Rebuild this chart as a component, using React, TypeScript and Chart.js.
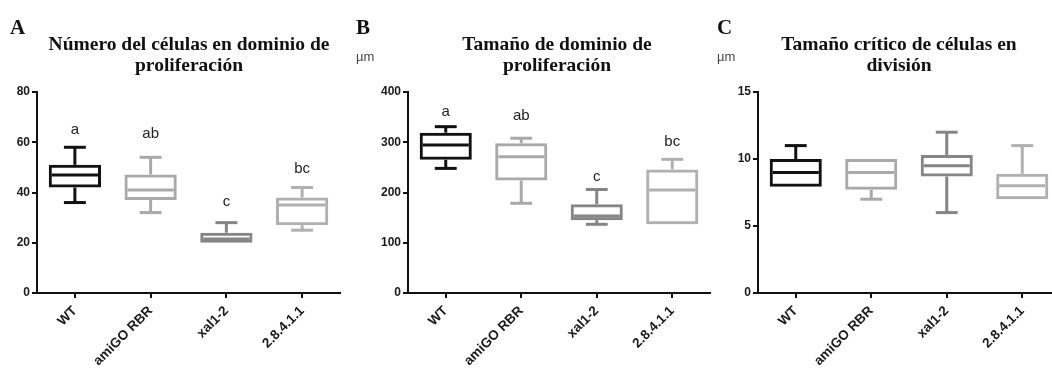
import React, { useEffect, useRef } from "react";
import { Chart, registerables } from "chart.js";
Chart.register(...registerables);

const categories = ["WT", "amiGO RBR", "xal1-2", "2.8.4.1.1"];
const boxColors = ["#111111", "#a9a9a9", "#858585", "#b0b0b0"];

// Panel A: Número del células en dominio de proliferación
const cellsMin = [36, 32, 19.6, 25];
const cellsQ1 = [42, 37, 20, 27];
const cellsMedian = [47, 41, 21.5, 35];
const cellsQ3 = [51, 47.2, 24, 38];
const cellsMax = [58, 54, 28, 42];
const cellsLetters = ["a", "ab", "c", "bc"];
const cellsLetterY = [65, 63.5, 36.3, 49.6];
const cellsTicks = [0, 80, 20];

// Panel B: Tamaño de dominio de proliferación (µm)
const domainMin = [248, 178.5, 136.7, 135];
const domainQ1 = [265, 224, 145, 137];
const domainMedian = [294.5, 271, 153, 205];
const domainQ3 = [319, 298, 176.5, 246];
const domainMax = [331, 308, 206, 266];
const domainLetters = ["a", "ab", "c", "bc"];
const domainLetterY = [361, 352, 231, 301];
const domainTicks = [0, 400, 100];

// Panel C: Tamaño crítico de células en división (µm)
const sizeMin = [8, 7, 6, 7];
const sizeQ1 = [7.93, 7.7, 8.7, 7];
const sizeMedian = [9, 9, 9.5, 8];
const sizeQ3 = [10, 10, 10.3, 8.9];
const sizeMax = [11, 10, 12, 11];
const sizeLetters: string[] = ["", "", "", ""];
const sizeLetterY = [0, 0, 0, 0];
const sizeTicks = [0, 15, 5];

type PanelProps = {
  left: number;
  width: number;
  axisWidth: number;
  padRight: number;
  min: number[];
  q1: number[];
  median: number[];
  q3: number[];
  max: number[];
  letters: string[];
  letterY: number[];
  ticks: number[];
};

const boxPlugin = {
  id: "boxWhiskers",
  afterDatasetsDraw(chart: any, _args: any, opts: any) {
    const { ctx } = chart;
    const x = chart.scales.x;
    const y = chart.scales.y;
    const meta = chart.getDatasetMeta(0);
    const line = (x1: number, y1: number, x2: number, y2: number) => {
      ctx.beginPath();
      ctx.moveTo(x1, y1);
      ctx.lineTo(x2, y2);
      ctx.stroke();
    };
    ctx.save();
    (opts.min as number[]).forEach((_v: number, i: number) => {
      const bar = meta.data[i];
      const cx = x.getPixelForValue(i);
      const half = bar.width / 2;
      const cap = half * 0.42;
      const lw = 3;
      ctx.strokeStyle = boxColors[i];
      ctx.lineWidth = lw;
      ctx.lineCap = "butt";
      const yMax = y.getPixelForValue(opts.max[i]);
      const yQ3 = y.getPixelForValue(opts.q3[i]);
      const yQ1 = y.getPixelForValue(opts.q1[i]);
      const yMin = y.getPixelForValue(opts.min[i]);
      const yMed = y.getPixelForValue(opts.median[i]);
      if (yQ3 - yMax > 2) {
        line(cx, yQ3, cx, yMax);
        line(cx - cap, yMax, cx + cap, yMax);
      }
      if (yMin - yQ1 > 2) {
        line(cx, yQ1, cx, yMin);
        line(cx - cap, yMin, cx + cap, yMin);
      }
      line(cx - half + lw, yMed, cx + half - lw, yMed);
      const letter = opts.letters[i];
      if (letter) {
        ctx.fillStyle = "#222";
        ctx.font = '15px "Liberation Sans", Arial, sans-serif';
        ctx.textAlign = "center";
        ctx.textBaseline = "middle";
        ctx.fillText(letter, cx, y.getPixelForValue(opts.letterY[i]));
      }
    });
    ctx.restore();
  },
};

function Panel(p: PanelProps) {
  const ref = useRef<HTMLCanvasElement | null>(null);
  useEffect(() => {
    if (!ref.current) return;
    const chart = new Chart(ref.current, {
      type: "bar",
      data: {
        labels: categories,
        datasets: [
          {
            data: categories.map((_, i) => [p.q1[i], p.q3[i]]) as any,
            backgroundColor: "rgba(255,255,255,0)",
            borderColor: boxColors,
            borderWidth: 3,
            borderSkipped: false,
            barPercentage: 0.69,
            categoryPercentage: 1,
          },
        ],
      },
      options: {
        responsive: false,
        animation: false,
        devicePixelRatio: 1,
        layout: { padding: { top: 92, right: p.padRight, left: 0, bottom: 0 } },
        plugins: {
          legend: { display: false },
          tooltip: { enabled: false },
          title: { display: false },
          boxWhiskers: {
            min: p.min,
            q1: p.q1,
            median: p.median,
            q3: p.q3,
            max: p.max,
            letters: p.letters,
            letterY: p.letterY,
          },
        } as any,
        scales: {
          x: {
            type: "category",
            offset: true,
            afterFit: (s: any) => {
              s.height = 78;
            },
            grid: {
              display: true,
              offset: false,
              drawOnChartArea: false,
              drawTicks: true,
              tickLength: 5,
              color: "#111",
              lineWidth: 2,
            },
            border: { display: true, color: "#111", width: 2 },
            ticks: {
              autoSkip: false,
              minRotation: 45,
              maxRotation: 45,
              padding: 5,
              color: "#1a1a1a",
              font: { family: '"Liberation Sans", Arial, sans-serif', size: 13.5, weight: "bold" },
            },
          },
          y: {
            type: "linear",
            min: p.ticks[0],
            max: p.ticks[1],
            afterFit: (s: any) => {
              s.width = p.axisWidth;
            },
            grid: {
              display: true,
              drawOnChartArea: false,
              drawTicks: true,
              tickLength: 5,
              color: "#111",
              lineWidth: 2,
            },
            border: { display: true, color: "#111", width: 2 },
            ticks: {
              stepSize: p.ticks[2],
              padding: 2,
              color: "#1a1a1a",
              font: { family: '"Liberation Sans", Arial, sans-serif', size: 12, weight: "bold" },
            },
          },
        },
      },
      plugins: [boxPlugin],
    });
    return () => chart.destroy();
  }, []);
  return (
    <canvas
      ref={ref}
      width={p.width}
      height={371}
      style={{ position: "absolute", left: p.left, top: 0, width: p.width, height: 371 }}
    />
  );
}

const serif = '"Liberation Serif", "Times New Roman", serif';
const sans = '"Liberation Sans", Arial, sans-serif';

function Title({ left, width, lines }: { left: number; width: number; lines: string[] }) {
  return (
    <div
      style={{
        position: "absolute",
        left,
        top: 33,
        width,
        textAlign: "center",
        fontFamily: serif,
        fontWeight: "bold",
        fontSize: 19.5,
        lineHeight: "21px",
        color: "#111",
      }}
    >
      {lines.map((l, i) => (
        <div key={i}>{l}</div>
      ))}
    </div>
  );
}

function Letter({ left, text }: { left: number; text: string }) {
  return (
    <div
      style={{
        position: "absolute",
        left,
        top: 15,
        fontFamily: serif,
        fontWeight: "bold",
        fontSize: 21,
        lineHeight: "24px",
        color: "#111",
      }}
    >
      {text}
    </div>
  );
}

function Unit({ left }: { left: number }) {
  return (
    <div
      style={{
        position: "absolute",
        left,
        top: 49,
        fontFamily: sans,
        fontSize: 13,
        lineHeight: "16px",
        color: "#444",
      }}
    >
      µm
    </div>
  );
}

export default function App() {
  return (
    <div
      style={{
        position: "absolute",
        left: 0,
        top: 0,
        width: 1052,
        height: 371,
        overflow: "hidden",
        background: "#fff",
      }}
    >
      <Panel
        left={0}
        width={350}
        axisWidth={37}
        padRight={10}
        min={cellsMin}
        q1={cellsQ1}
        median={cellsMedian}
        q3={cellsQ3}
        max={cellsMax}
        letters={cellsLetters}
        letterY={cellsLetterY}
        ticks={cellsTicks}
      />
      <Panel
        left={350}
        width={365}
        axisWidth={58}
        padRight={5}
        min={domainMin}
        q1={domainQ1}
        median={domainMedian}
        q3={domainQ3}
        max={domainMax}
        letters={domainLetters}
        letterY={domainLetterY}
        ticks={domainTicks}
      />
      <Panel
        left={700}
        width={362}
        axisWidth={58}
        padRight={2}
        min={sizeMin}
        q1={sizeQ1}
        median={sizeMedian}
        q3={sizeQ3}
        max={sizeMax}
        letters={sizeLetters}
        letterY={sizeLetterY}
        ticks={sizeTicks}
      />
      <Letter left={10} text="A" />
      <Letter left={356} text="B" />
      <Letter left={717} text="C" />
      <Unit left={356} />
      <Unit left={717} />
      <Title left={38} width={302} lines={["Número del células en dominio de", "proliferación"]} />
      <Title left={407} width={300} lines={["Tamaño de dominio de", "proliferación"]} />
      <Title left={749} width={300} lines={["Tamaño crítico de células en", "división"]} />
    </div>
  );
}
